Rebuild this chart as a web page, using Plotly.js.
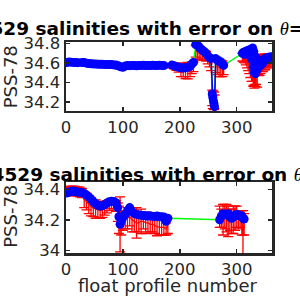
<!DOCTYPE html>
<html><head><meta charset="utf-8">
<script src="https://cdn.plot.ly/plotly-3.0.1.min.js"></script>
<style>html,body{margin:0;padding:0;background:#fff}#chart{width:300px;height:300px}</style>
</head><body><div id="chart"></div>
<script>
// ---------- upper panel (shallower theta level) ----------
const topProfile = [1,5,9,13,17,21,28,32,36,40,44,48,52,56,60,64,68,72,76,80,84,88,92,96,100,104,108,112,116,120,124,128,132,136,140,144,148,152,156,160,164,168,172,
  179,
  186,190,194,198,202,206,210,214,218,221,224,
  226,
  228,231,234,237,240,243,246,
  249,252,255,257,258,259,260,261,263,266,269,272,275,277,
  293,
  310,312,314,316,318,320,322,324,326,328,329,330,331,332,333,334,336,338,340,342,344,346,348,350,352,354,356,358,360];
const topSal = [34.605,34.61,34.608,34.606,34.605,34.603,34.605,34.604,34.598,34.594,34.592,34.59,34.589,34.588,34.587,34.586,34.585,34.585,34.584,34.583,34.58,34.578,34.57,34.56,34.556,34.568,34.574,34.572,34.575,34.573,34.57,34.575,34.574,34.576,34.573,34.575,34.574,34.576,34.575,34.574,34.576,34.575,34.574,
  null,
  34.578,34.572,34.562,34.556,34.55,34.547,34.55,34.556,34.568,34.588,34.606,
  null,
  34.79,34.785,34.765,34.745,34.73,34.715,34.70,
  34.675,34.655,34.645,34.28,34.245,34.21,34.18,34.15,34.645,34.63,34.62,34.61,34.59,34.575,
  null,
  34.70,34.71,34.69,34.72,34.70,34.73,34.68,34.74,34.64,34.755,34.56,34.72,34.50,34.59,34.49,34.66,34.53,34.56,34.60,34.575,34.62,34.60,34.64,34.63,34.65,34.64,34.66,34.655,34.665];
const topMapped = [34.598,34.6,34.6,34.598,34.597,34.595,34.597,34.596,34.59,34.586,34.584,34.582,34.581,34.58,34.579,34.578,34.577,34.577,34.576,34.575,34.572,34.57,34.562,34.552,34.548,34.56,34.566,34.564,34.567,34.565,34.562,34.567,34.566,34.568,34.565,34.567,34.566,34.568,34.567,34.566,34.568,34.567,34.566,
  null,
  34.57,34.565,34.555,34.545,34.53,34.52,34.515,34.52,34.53,34.55,34.56,
  null,
  34.72,34.71,34.70,34.69,34.685,34.68,34.67,
  34.63,34.61,34.58,34.24,34.22,34.22,34.21,34.20,34.57,34.56,34.55,34.545,34.54,34.54,
  null,
  34.66,34.66,34.65,34.64,34.62,34.60,34.58,34.55,34.53,34.52,34.50,34.50,34.49,34.50,34.50,34.50,34.50,34.56,34.57,34.58,34.59,34.60,34.60,34.61,34.62,34.62,34.62,34.63,34.63];
const topErr = [0.012,0.013,0.012,0.012,0.014,0.012,0.012,0.013,0.012,0.012,0.013,0.012,0.012,0.012,0.013,0.012,0.012,0.012,0.013,0.012,0.012,0.013,0.014,0.015,0.015,0.013,0.012,0.012,0.013,0.012,0.012,0.012,0.013,0.012,0.012,0.012,0.013,0.012,0.012,0.012,0.013,0.012,0.012,
  null,
  0.02,0.025,0.03,0.04,0.07,0.06,0.075,0.085,0.07,0.06,0.05,
  null,
  0.06,0.07,0.06,0.06,0.055,0.05,0.05,
  0.04,0.05,0.06,0.08,0.09,0.09,0.09,0.07,0.07,0.08,0.09,0.085,0.08,0.06,
  null,
  0.04,0.05,0.05,0.06,0.07,0.08,0.09,0.10,0.12,0.11,0.14,0.13,0.15,0.12,0.14,0.12,0.15,0.08,0.10,0.09,0.08,0.09,0.07,0.08,0.07,0.06,0.07,0.06,0.05];

// ---------- lower panel (deeper theta level) ----------
const botProfile = [1,4,8,12,16,20,24,28,32,36,40,44,48,52,56,60,64,68,72,76,80,84,88,91,93,95,97,100,104,108,112,116,120,124,128,132,136,140,144,148,152,156,160,164,168,172,176,179,
  224,
  270,273,276,279,282,285,288,291,294,297,300,303,306,309,311,313];
const botSal = [34.375,34.38,34.385,34.388,34.385,34.382,34.38,34.378,34.372,34.362,34.35,34.335,34.318,34.305,34.295,34.29,34.292,34.30,34.31,34.318,34.322,34.32,34.31,34.28,34.22,34.17,34.19,34.215,34.235,34.26,34.28,34.255,34.24,34.235,34.232,34.23,34.228,34.226,34.224,34.226,34.222,34.222,34.225,34.22,34.22,34.218,34.19,34.21,
  null,
  34.20,34.225,34.24,34.235,34.232,34.24,34.22,34.21,34.218,34.23,34.235,34.232,34.225,34.225,34.21,34.205];
const botMapped = [34.385,34.388,34.39,34.39,34.388,34.385,34.382,34.375,34.33,34.32,34.30,34.285,34.275,34.27,34.265,34.26,34.265,34.275,34.285,34.295,34.30,34.30,34.29,34.25,34.20,34.17,34.18,34.19,34.20,34.21,34.22,34.20,34.19,34.18,34.18,34.19,34.19,34.18,34.18,34.17,34.17,34.16,34.155,34.15,34.15,34.15,34.14,34.16,
  null,
  34.22,34.21,34.20,34.22,34.21,34.19,34.20,34.19,34.20,34.21,34.22,34.20,34.20,34.18,34.10,34.17];
const botErr = [0.03,0.03,0.028,0.03,0.03,0.03,0.032,0.03,0.05,0.055,0.06,0.06,0.055,0.06,0.055,0.05,0.05,0.045,0.04,0.035,0.025,0.03,0.035,0.06,0.09,0.18,0.08,0.06,0.06,0.07,0.06,0.08,0.07,0.1,0.06,0.08,0.05,0.07,0.06,0.05,0.05,0.05,0.06,0.05,0.05,0.05,0.04,0.05,
  null,
  0.07,0.06,0.1,0.08,0.09,0.1,0.07,0.08,0.09,0.08,0.07,0.06,0.05,0.08,0.16,0.07];

// ---------- ticks and texts ----------
const xTickVals = [0,100,200,300];
const xTickText = ['0','100','200','300'];
const topYTickVals = [34.2,34.4,34.6,34.8];
const topYTickText = ['34.2','34.4','34.6','34.8'];
const botYTickVals = [34,34.2,34.4];
const botYTickText = ['34','34.2','34.4'];
const theta = "<span style=\"font-family:'Liberation Serif';font-style:italic;font-weight:normal\">θ</span>";
const topTitle = '5904529 salinities with error on ' + theta + '=3.5°C';
const botTitle = '5904529 salinities with error on ' + theta + '=2.5°C';
const yLabel = 'PSS-78';
const xLabel = 'float profile number';

function panel(x, sal, mapped, err, xa, ya){
  return [
    {x:x, y:mapped, xaxis:xa, yaxis:ya, type:'scatter', mode:'lines', connectgaps:false,
     line:{color:'#ff0000', width:1.2},
     error_y:{type:'data', array:err, visible:true, color:'#ff0000', thickness:1.3, width:5},
     hoverinfo:'skip'},
    {x:x, y:sal, xaxis:xa, yaxis:ya, type:'scatter', mode:'lines', connectgaps:true,
     line:{color:'#00ff00', width:1.3}, hoverinfo:'skip'},
    {x:x, y:sal, xaxis:xa, yaxis:ya, type:'scatter', mode:'lines+markers', connectgaps:false,
     line:{color:'#0000ff', width:1.5}, marker:{color:'#0000ff', size:9}, hoverinfo:'skip'}
  ];
}

const data = panel(topProfile, topSal, topMapped, topErr, 'x', 'y')
  .concat(panel(botProfile, botSal, botMapped, botErr, 'x2', 'y2'));

const axBase = {showline:true, mirror:'ticks', linecolor:'#262626', linewidth:2.5,
  ticks:'inside', ticklen:4, tickwidth:1.5, tickcolor:'#262626',
  showgrid:false, zeroline:false, fixedrange:true,
  tickfont:{family:'DejaVu Sans', size:16.5, color:'#262626'}};

const layout = {
  width:300, height:300, showlegend:false,
  paper_bgcolor:'#ffffff', plot_bgcolor:'#ffffff',
  margin:{l:66, r:28, t:42, b:47},
  xaxis: Object.assign({}, axBase, {domain:[0,1], anchor:'y', range:[0,362], tickmode:'array', tickvals:xTickVals, ticktext:xTickText}),
  yaxis: Object.assign({}, axBase, {domain:[0.673,1], anchor:'x', range:[34.105,34.816], tickmode:'array', tickvals:topYTickVals, ticktext:topYTickText}),
  xaxis2: Object.assign({}, axBase, {domain:[0,1], anchor:'y2', range:[0,362], tickmode:'array', tickvals:xTickVals, ticktext:xTickText}),
  yaxis2: Object.assign({}, axBase, {domain:[0,0.336], anchor:'x2', range:[33.982,34.447], tickmode:'array', tickvals:botYTickVals, ticktext:botYTickText}),
  annotations:[
    {text:topTitle, xref:'paper', yref:'paper', x:-0.626, y:1.062, xanchor:'left', yanchor:'middle', showarrow:false,
     font:{family:'DejaVu Sans', size:18.5, color:'#000000', weight:'bold'}},
    {text:botTitle, xref:'paper', yref:'paper', x:-0.558, y:0.373, xanchor:'left', yanchor:'middle', showarrow:false,
     font:{family:'DejaVu Sans', size:18.5, color:'#000000', weight:'bold'}},
    {text:yLabel, xref:'paper', yref:'paper', x:-0.268, y:0.8365, xanchor:'center', yanchor:'middle', textangle:-90, showarrow:false,
     font:{family:'DejaVu Sans', size:18, color:'#262626'}},
    {text:yLabel, xref:'paper', yref:'paper', x:-0.268, y:0.1754, xanchor:'center', yanchor:'middle', textangle:-90, showarrow:false,
     font:{family:'DejaVu Sans', size:18, color:'#262626'}},
    {text:xLabel, xref:'paper', yref:'paper', x:0.495, y:-0.153, xanchor:'center', yanchor:'middle', showarrow:false,
     font:{family:'DejaVu Sans', size:18, color:'#262626'}}
  ]
};

Plotly.newPlot('chart', data, layout, {staticPlot:true, displayModeBar:false});
</script></body></html>
